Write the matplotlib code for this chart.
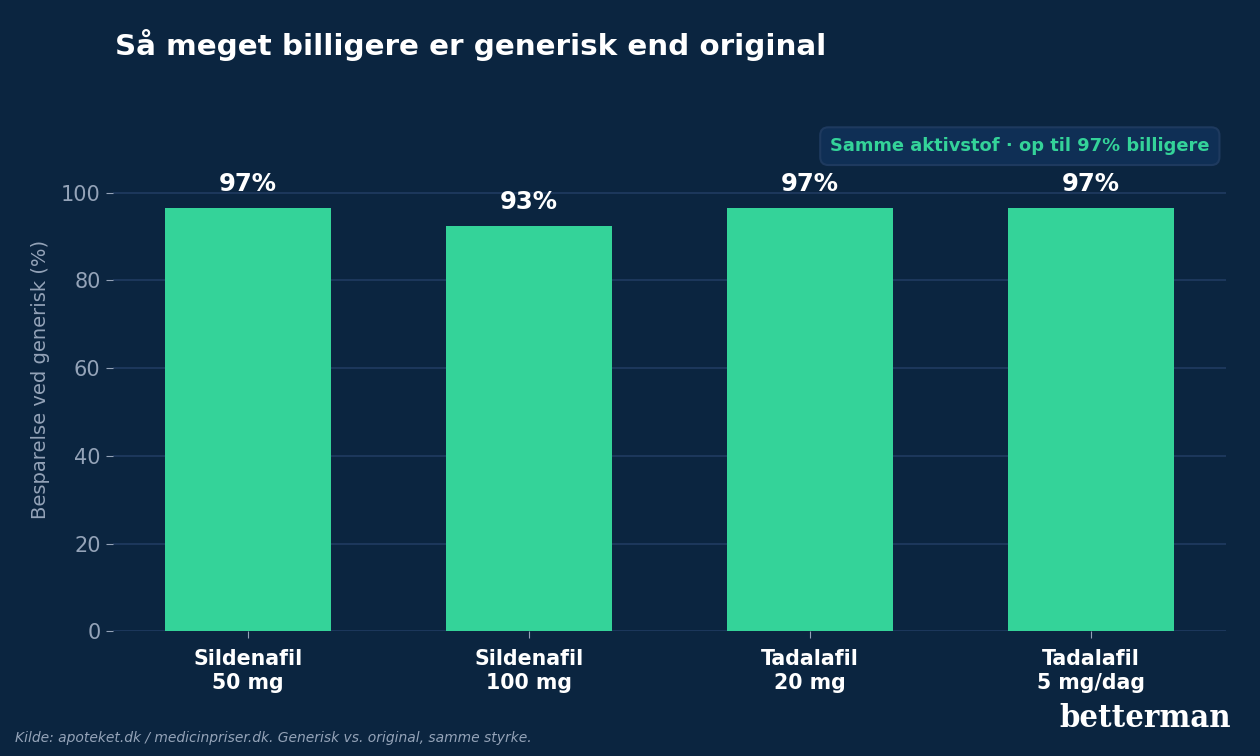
import matplotlib
matplotlib.use("Agg")
import matplotlib.pyplot as plt

plt.rcParams["font.family"] = ["DejaVu Sans"]

# data
drugs = ["Sildenafil\n50 mg", "Sildenafil\n100 mg", "Tadalafil\n20 mg", "Tadalafil\n5 mg/dag"]
savings = [96.6, 92.5, 96.6, 96.6]
labels = ["97%", "93%", "97%", "97%"]

BG = "#0b2540"
GREEN = "#34d399"
GRID = "#1e3a5f"
MUTED = "#94a3b8"

fig = plt.figure(figsize=(12.6, 7.56), dpi=100, facecolor=BG)
ax = fig.add_axes([0.0897, 0.165, 0.883, 0.667])
ax.set_facecolor(BG)

x = list(range(len(drugs)))
bars = ax.bar(x, savings, width=0.59, color=GREEN, zorder=3)

for b, lab in zip(bars, labels):
    ax.text(b.get_x() + b.get_width() / 2, b.get_height() + 2.6, lab,
            ha="center", va="bottom", color="white", fontsize=17.5,
            fontweight="bold", zorder=4)

ax.set_xlim(-0.48, 3.48)
ax.set_ylim(0, 115)
ax.set_yticks([0, 20, 40, 60, 80, 100])
ax.yaxis.grid(True, color=GRID, linewidth=1.3, zorder=0)
ax.set_axisbelow(True)

for s in ax.spines.values():
    s.set_visible(False)

ax.set_xticks(x)
ax.set_xticklabels(drugs, color="white", fontsize=14.8, fontweight="bold")
ax.tick_params(axis="x", colors=MUTED, length=5, pad=8)
ax.tick_params(axis="y", colors=MUTED, labelsize=15, length=5, pad=4)
for t in ax.get_xticklabels():
    t.set_color("white")

ax.set_ylabel("Besparelse ved generisk (%)", color=MUTED, fontsize=14, labelpad=8)

# badge
ax.text(0.9856, 0.962, "Samme aktivstof · op til 97% billigere",
        transform=ax.transAxes, ha="right", va="center", color=GREEN,
        fontsize=12.9, fontweight="bold",
        bbox=dict(boxstyle="round,pad=0.55,rounding_size=0.45",
                  facecolor="#0f2f55", edgecolor=GRID, linewidth=1.5))

fig.text(0.091, 0.94, "Så meget billigere er generisk end original",
         color="white", fontsize=21.2, fontweight="bold", ha="left", va="center")

fig.text(0.012, 0.024, "Kilde: apoteket.dk / medicinpriser.dk. Generisk vs. original, samme styrke.",
         color=MUTED, fontsize=10, style="italic", ha="left", va="center")

fig.text(0.977, 0.05, "betterman", color="white", fontsize=23.4,
         fontweight="bold", family="DejaVu Serif", stretch="condensed",
         ha="right", va="center")

fig.savefig("out.png", dpi=100, facecolor=BG)
